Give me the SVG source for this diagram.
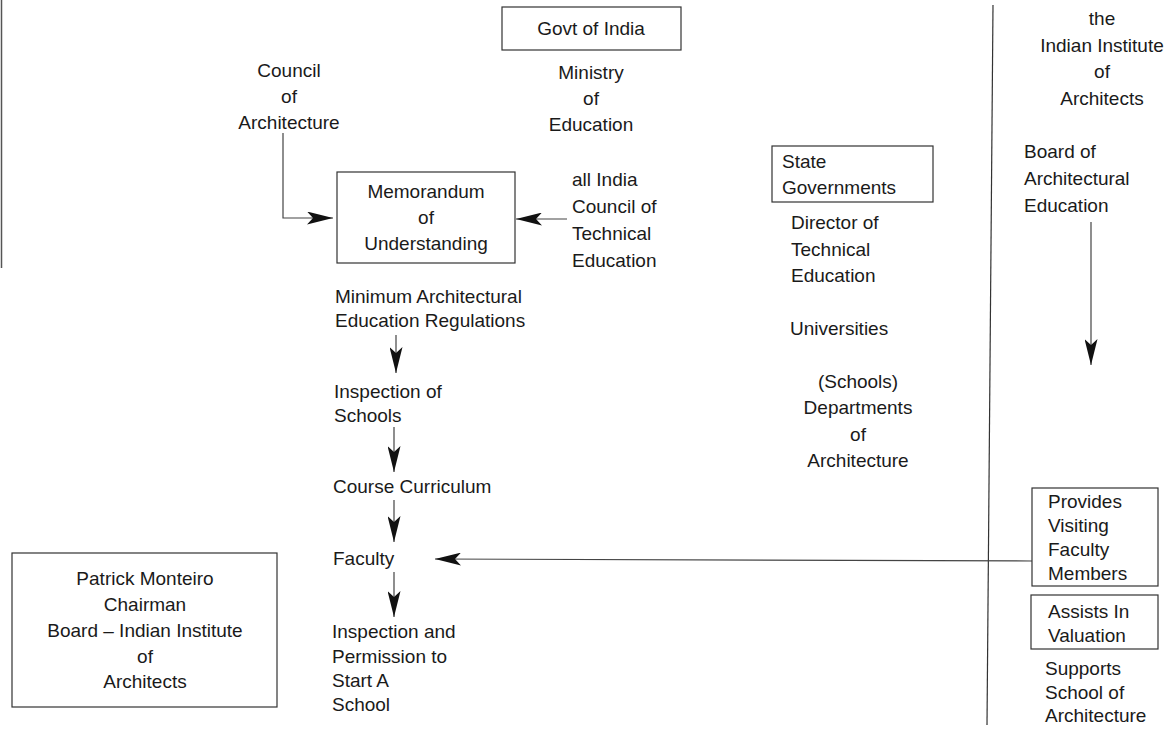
<svg xmlns="http://www.w3.org/2000/svg" width="1168" height="729" viewBox="0 0 1168 729">
<style>
text{font-family:"Liberation Sans",Arial,sans-serif;font-size:19px;fill:#1a1a1a}
.c{text-anchor:middle}
.box{fill:none;stroke:#333;stroke-width:1.2}
.ln{fill:none;stroke:#444;stroke-width:1.2}
</style>
<defs>
<marker id="ah" viewBox="0 0 26 13" refX="26" refY="6.5" markerWidth="26" markerHeight="13" markerUnits="userSpaceOnUse" orient="auto">
<path d="M0,0 L26,6.5 L0,13 L6,6.5 Z" fill="#111"/>
</marker>
</defs>
<g id="frame">
<line x1="1.5" y1="0" x2="1.5" y2="268" stroke="#555" stroke-width="1.5"/>
<line x1="993" y1="5" x2="987" y2="725" stroke="#333" stroke-width="1.2"/>
</g>
<g id="connectors">
<path class="ln" d="M283,133 V218 H333" marker-end="url(#ah)"/>
<path class="ln" d="M567,219 H516" marker-end="url(#ah)"/>
<path class="ln" d="M1091,222 V365" marker-end="url(#ah)"/>
<path class="ln" d="M396,335 V373" marker-end="url(#ah)"/>
<path class="ln" d="M394,427 V472" marker-end="url(#ah)"/>
<path class="ln" d="M394,500 V542" marker-end="url(#ah)"/>
<path class="ln" d="M394,572 V617" marker-end="url(#ah)"/>
<path class="ln" d="M1032,561 L435,559" marker-end="url(#ah)"/>
</g>
<g id="govt">
<rect class="box" x="502" y="7" width="179" height="43"/>
<text class="c" x="591" y="35">Govt of India</text>
</g>
<g id="ministry">
<text class="c" x="591" y="79">Ministry</text>
<text class="c" x="591" y="105">of</text>
<text class="c" x="591" y="131">Education</text>
</g>
<g id="council">
<text class="c" x="289" y="77">Council</text>
<text class="c" x="289" y="103">of</text>
<text class="c" x="289" y="129">Architecture</text>
</g>
<g id="mou">
<rect class="box" x="337" y="172" width="178" height="91"/>
<text class="c" x="426" y="198">Memorandum</text>
<text class="c" x="426" y="224">of</text>
<text class="c" x="426" y="250">Understanding</text>
</g>
<g id="aicte">
<text x="572" y="186">all India</text>
<text x="572" y="213">Council of</text>
<text x="572" y="240">Technical</text>
<text x="572" y="267">Education</text>
</g>
<g id="state">
<rect class="box" x="772" y="146" width="161" height="56"/>
<text x="782" y="168">State</text>
<text x="782" y="194">Governments</text>
</g>
<g id="director">
<text x="791" y="229">Director of</text>
<text x="791" y="256">Technical</text>
<text x="791" y="282">Education</text>
</g>
<g id="universities">
<text x="790" y="335">Universities</text>
</g>
<g id="departments">
<text class="c" x="858" y="388">(Schools)</text>
<text class="c" x="858" y="414">Departments</text>
<text class="c" x="858" y="441">of</text>
<text class="c" x="858" y="467">Architecture</text>
</g>
<g id="iia">
<text class="c" x="1102" y="25">the</text>
<text class="c" x="1102" y="52">Indian Institute</text>
<text class="c" x="1102" y="78">of</text>
<text class="c" x="1102" y="105">Architects</text>
</g>
<g id="board">
<text x="1024" y="158">Board of</text>
<text x="1024" y="185">Architectural</text>
<text x="1024" y="212">Education</text>
</g>
<g id="mini">
<text x="335" y="303">Minimum Architectural</text>
<text x="335" y="327">Education Regulations</text>
</g>
<g id="inspection">
<text x="334" y="398">Inspection of</text>
<text x="334" y="422">Schools</text>
</g>
<g id="course">
<text x="333" y="493">Course Curriculum</text>
</g>
<g id="faculty">
<text x="333" y="565">Faculty</text>
</g>
<g id="permission">
<text x="332" y="638">Inspection and</text>
<text x="332" y="663">Permission to</text>
<text x="332" y="687">Start A</text>
<text x="332" y="711">School</text>
</g>
<g id="patrick">
<rect class="box" x="12" y="553" width="265" height="154"/>
<text class="c" x="145" y="585">Patrick Monteiro</text>
<text class="c" x="145" y="611">Chairman</text>
<text class="c" x="145" y="637">Board – Indian Institute</text>
<text class="c" x="145" y="663">of</text>
<text class="c" x="145" y="688">Architects</text>
</g>
<g id="provides">
<rect class="box" x="1032" y="488" width="126" height="98"/>
<text x="1048" y="508">Provides</text>
<text x="1048" y="532">Visiting</text>
<text x="1048" y="556">Faculty</text>
<text x="1048" y="580">Members</text>
</g>
<g id="assists">
<rect class="box" x="1031" y="595" width="127" height="54"/>
<text x="1048" y="618">Assists In</text>
<text x="1048" y="642">Valuation</text>
</g>
<g id="supports">
<text x="1045" y="675">Supports</text>
<text x="1045" y="699">School of</text>
<text x="1045" y="722">Architecture</text>
</g>
</svg>
